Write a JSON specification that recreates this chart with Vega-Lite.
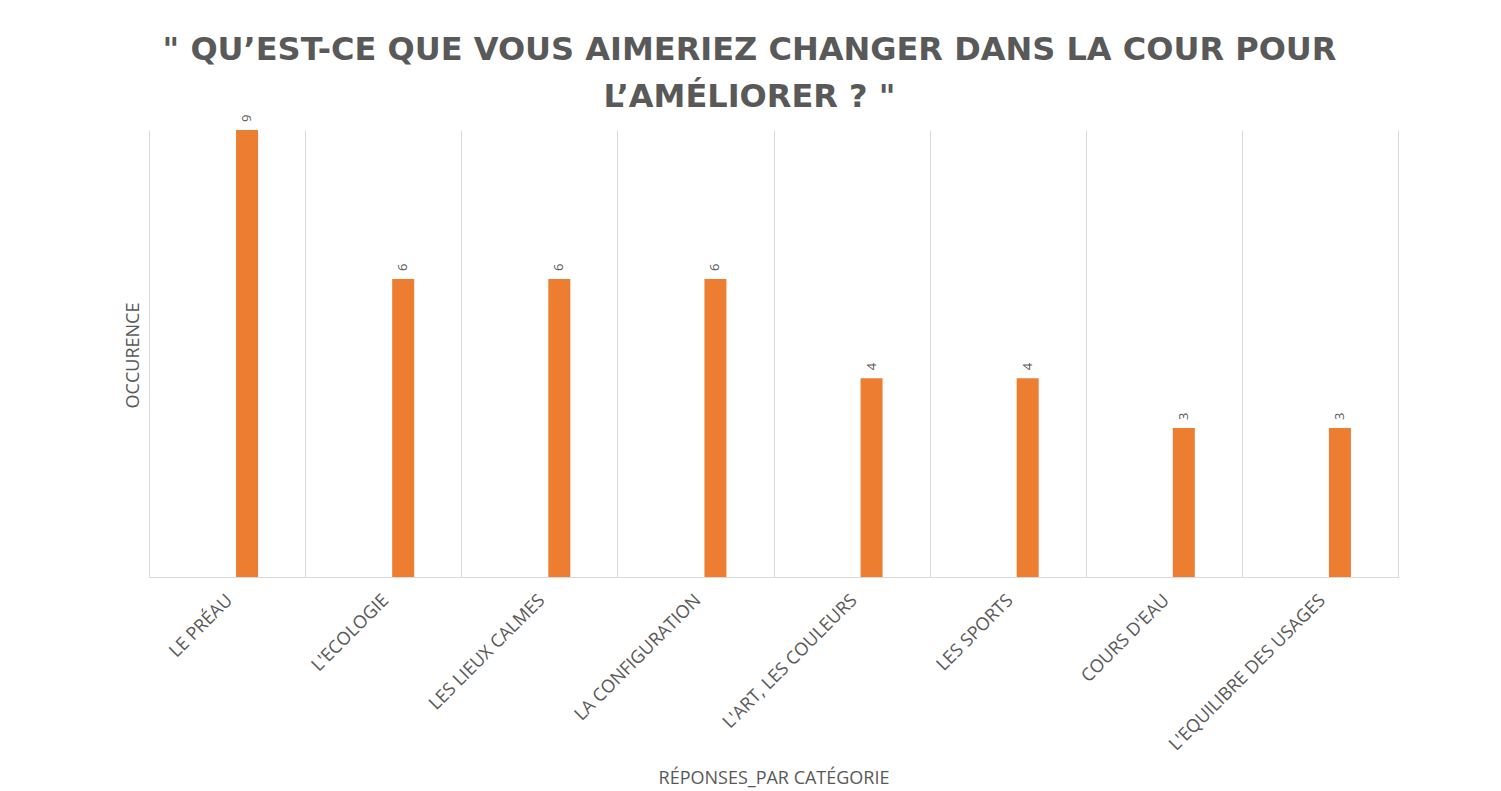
{
  "$schema": "https://vega.github.io/schema/vega-lite/v6.json",
  "width": 1249,
  "height": 447,
  "autosize": {"type": "none"},
  "padding": {"left": 149, "top": 130, "right": 103, "bottom": 214},
  "background": "white",
  "title": {
    "text": ["\" QU’EST-CE QUE VOUS AIMERIEZ CHANGER DANS LA COUR POUR", "L’AMÉLIORER ? \""],
    "font": "DejaVu Sans",
    "fontSize": 32,
    "fontWeight": "bold",
    "color": "#595959",
    "lineHeight": 47,
    "anchor": "middle",
    "offset": 1,
    "dx": -24
  },
  "data": {
    "values": [
      {"categorie": "LE PRÉAU", "occurence": 9},
      {"categorie": "L'ECOLOGIE", "occurence": 6},
      {"categorie": "LES LIEUX CALMES", "occurence": 6},
      {"categorie": "LA CONFIGURATION", "occurence": 6},
      {"categorie": "L'ART, LES COULEURS", "occurence": 4},
      {"categorie": "LES SPORTS", "occurence": 4},
      {"categorie": "COURS D'EAU", "occurence": 3},
      {"categorie": "L'EQUILIBRE DES USAGES", "occurence": 3}
    ]
  },
  "encoding": {
    "x": {
      "field": "categorie",
      "type": "nominal",
      "sort": null,
      "scale": {"paddingInner": 0, "paddingOuter": 0},
      "axis": {
        "title": "RÉPONSES_PAR CATÉGORIE",
        "titleFont": "Open Sans",
        "titleFontSize": 18,
        "titleFontWeight": "normal",
        "titleColor": "#595959",
        "titleY": 206,
        "titleBaseline": "alphabetic",
        "labelAngle": -45,
        "labelAlign": "right",
        "labelBaseline": "top",
        "labelFont": "Open Sans",
        "labelFontSize": 18,
        "labelColor": "#595959",
        "labelPadding": 14,
        "labelOffset": -4,
        "labelLimit": 0,
        "labelOverlap": false,
        "ticks": false,
        "tickBand": "extent",
        "grid": true,
        "gridColor": "#d9d9d9",
        "gridWidth": 1,
        "domain": true,
        "domainColor": "#d9d9d9",
        "domainWidth": 1
      }
    },
    "y": {
      "field": "occurence",
      "type": "quantitative",
      "scale": {"domain": [0, 9], "nice": false},
      "axis": {
        "title": "OCCURENCE",
        "titleFont": "Open Sans",
        "titleFontSize": 18,
        "titleFontWeight": "normal",
        "titleColor": "#595959",
        "titleX": -16,
        "titleY": 225,
        "titleAlign": "center",
        "titleBaseline": "middle",
        "labels": false,
        "ticks": false,
        "grid": false,
        "domain": false
      }
    }
  },
  "layer": [
    {
      "mark": {"type": "bar", "color": "#ED7D31", "width": 22, "xOffset": 20}
    },
    {
      "mark": {
        "type": "text",
        "angle": -90,
        "align": "left",
        "baseline": "middle",
        "dx": 8,
        "xOffset": 20,
        "font": "Open Sans",
        "fontSize": 13,
        "color": "#595959"
      },
      "encoding": {"text": {"field": "occurence", "type": "quantitative"}}
    }
  ],
  "config": {"view": {"stroke": null}}
}
